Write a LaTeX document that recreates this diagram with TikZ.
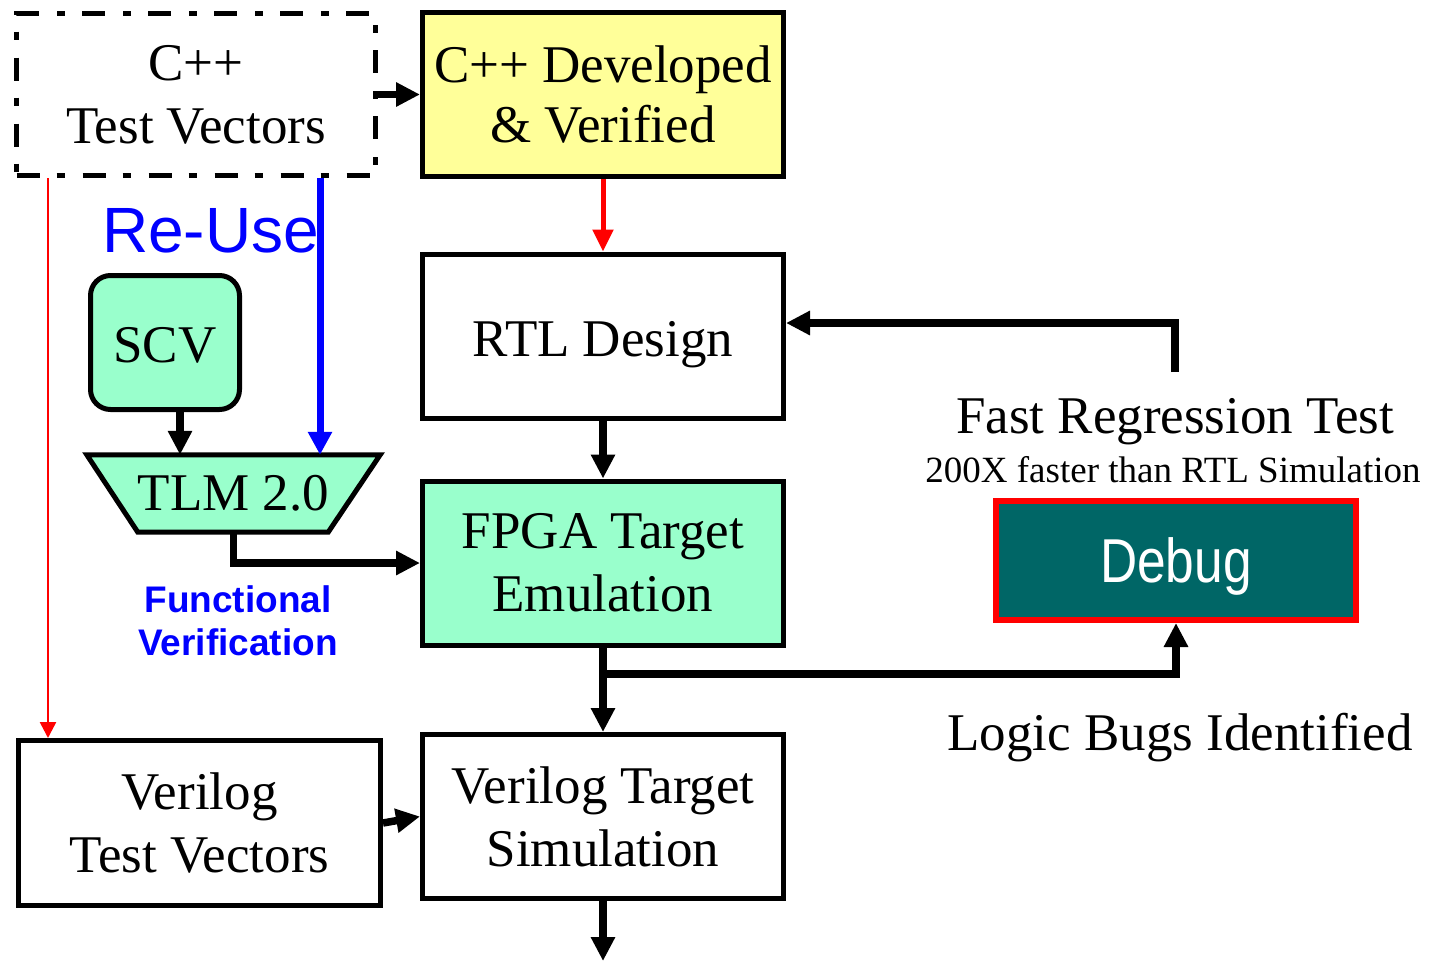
\documentclass[tikz,border=0pt]{standalone}
\usepackage{fontspec}
\setmainfont{Liberation Serif}
\newfontfamily\arialfont{Liberation Sans}
\newfontfamily\narrowarial[FakeStretch=0.83]{Liberation Sans}
\usetikzlibrary{arrows.meta,backgrounds}

\definecolor{lightyellow}{HTML}{FFFF99}
\definecolor{mint}{HTML}{99FFCC}
\definecolor{debugteal}{HTML}{006666}

\newcommand{\bigserif}{\fontsize{53}{63}\selectfont}

\tikzset{
  box/.style={draw, line width=5pt, minimum width=361pt, minimum height=164pt,
    inner sep=0pt, align=center, font=\bigserif},
  plaintext/.style={inner sep=0pt, anchor=base},
  bigarrow/.style={line width=7.5pt, line join=miter,
    -{Triangle[length=24pt,width=23pt]}},
  redarrow/.style={draw=red, line width=5pt, -{Triangle[length=22pt,width=20pt,fill=red]}},
  thinred/.style={draw=red, line width=2.5pt, -{Triangle[length=16pt,width=16pt,fill=red]}},
  bluearrow/.style={draw=blue, line width=7pt, -{Triangle[length=23pt,width=23pt,fill=blue]}},
}

\begin{document}
\begin{tikzpicture}[x=1pt, y=-1pt]
\useasboundingbox (0,0) rectangle (1435,962);

% main flow boxes
\node[box, minimum width=359pt, minimum height=162pt,
      dash pattern=on 23pt off 17pt on 8pt off 18pt] (cpptv) at (196,94.5) {C++\\Test Vectors};
\node[box, fill=lightyellow, font=\fontsize{53}{60}\selectfont] (cppdev) at (603,94.5) {C++ Developed\\\& Verified};
\node[box, text height=40pt, text depth=0pt] (rtl) at (603,336) {RTL Design};
\node[box, fill=mint] (fpga) at (603,563) {FPGA Target\\Emulation};
\node[box] (vt) at (603,816.5) {Verilog Target\\Simulation};
\node[box, minimum width=362pt, minimum height=165pt] (vtv) at (199.5,823) {Verilog\\Test Vectors};

% SystemC side
\node[box, fill=mint, rounded corners=20pt, minimum width=149pt, minimum height=134pt,
      text height=40pt, text depth=0pt] (scv) at (165,342.5) {SCV};
\node[inner sep=0pt, minimum width=293pt, minimum height=77pt, font=\bigserif] (tlm) at (233.5,493.5) {TLM 2.0};
\begin{scope}[on background layer]
  \draw[line width=5pt, fill=mint, line join=miter]
    (tlm.north west) -- (tlm.north east) -- ([xshift=-52pt]tlm.south east)
    -- ([xshift=51pt]tlm.south west) -- cycle;
\end{scope}

% debug box
\node[draw=red, fill=debugteal, line width=6pt, minimum width=360pt, minimum height=119pt,
      inner sep=0pt, text=white, text depth=0pt,
      font=\narrowarial\fontsize{62}{62}\selectfont] (debug) at (1176,560.5) {Debug};

% labels
\node[plaintext, text=blue, font=\arialfont\fontsize{64}{64}\selectfont] (reuse) at (210.5,252) {Re-Use};
\node[inner sep=0pt, align=center, text=blue,
      font=\arialfont\bfseries\fontsize{37}{43}\selectfont] (funcver) at (238,621) {Functional\\Verification};
\node[plaintext, font=\fontsize{53}{53}\selectfont] (frt) at (1175,433) {Fast Regression Test};
\node[plaintext, font=\fontsize{37}{37}\selectfont] (speed) at (1173,482) {200X faster than RTL Simulation};
\node[plaintext, font=\fontsize{53}{53}\selectfont] (bugs) at (1180,750) {Logic Bugs Identified};

% helper points
\coordinate (redTop) at ([xshift=34pt]cpptv.south west);
\coordinate (blueTop) at ([xshift=306pt]cpptv.south west);
\coordinate (scvOut) at ([xshift=15pt]scv.south);
\coordinate (split) at (603,674);
\coordinate (simout) at (603,961);
\coordinate (fbStart) at (1175,372);

% connectors
\draw[bigarrow] (cpptv.east) -- (cppdev.west);
\draw[redarrow] (cppdev.south) -- (rtl.north);
\draw[bigarrow] (rtl.south) -- (fpga.north);
\draw[bigarrow] (fpga.south) -- (split) -| (debug.south);
\draw[bigarrow] (split) -- (vt.north);
\draw[bigarrow] (vt.south) -- (simout);
\draw[bigarrow] (vtv.east) -- (vt.west);
\draw[bigarrow] (scvOut) -- (scvOut |- tlm.north);
\draw[bigarrow] (tlm.south) |- (fpga.west);
\draw[bluearrow] (blueTop) -- (blueTop |- tlm.north);
\draw[thinred] (redTop) -- (redTop |- vtv.north);
\draw[bigarrow] (fbStart) |- ([yshift=13pt]rtl.east);
\end{tikzpicture}
\end{document}
